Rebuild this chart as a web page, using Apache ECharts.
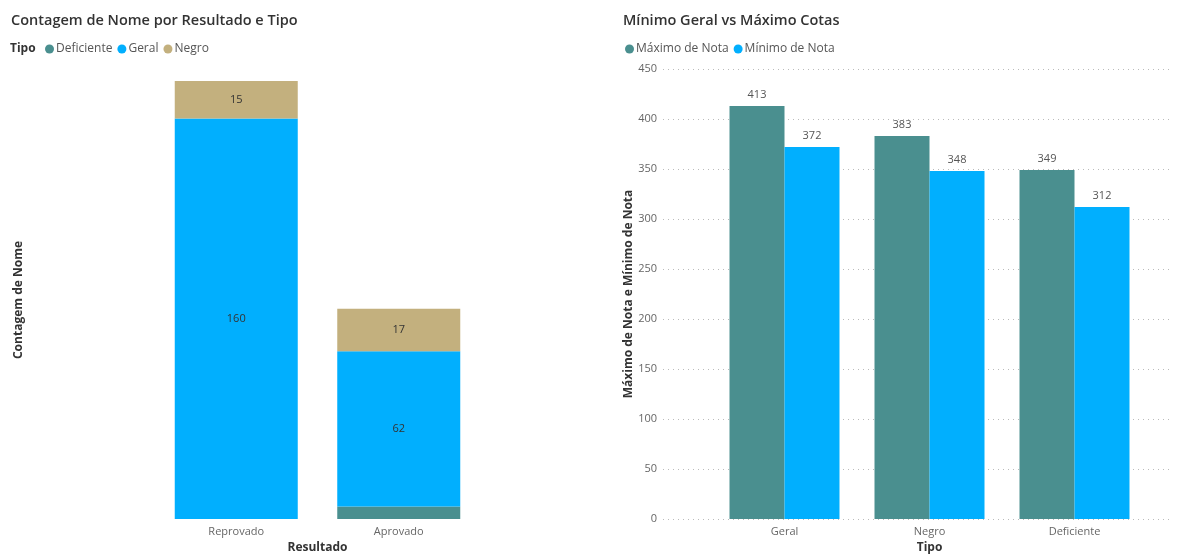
<!DOCTYPE html>
<html><head><meta charset="utf-8">
<script src="https://cdn.jsdelivr.net/npm/echarts@6/dist/echarts.min.js"></script>
<style>html,body{margin:0;padding:0;background:#fff}#c{width:1186px;height:554px}</style>
</head><body><div id="c"></div>
<script>
// Left chart data
const resultados = ['Reprovado', 'Aprovado'];
const deficiente = [0, 5];
const geral = [160, 62];
const negro = [15, 17];
// Right chart data
const tipos = ['Geral', 'Negro', 'Deficiente'];
const maximoNota = [413, 383, 349];
const minimoNota = [372, 348, 312];
const yTicks = [0, 50, 100, 150, 200, 250, 300, 350, 400, 450];

const TEAL = '#4A8F8F', BLUE = '#01AFFE', TAN = '#C3B07E';
const FONT = '"Open Sans", "DejaVu Sans", sans-serif';
const chart = echarts.init(document.getElementById('c'));
chart.setOption({
  animation: false,
  textStyle: { fontFamily: FONT },
  title: [
    { text: 'Contagem de Nome por Resultado e Tipo', left: 6, top: 8, textStyle: { fontSize: 14.5, fontWeight: 600, color: '#333', fontFamily: FONT } },
    { text: 'Mínimo Geral vs Máximo Cotas', left: 618, top: 8, textStyle: { fontSize: 14.5, fontWeight: 600, color: '#333', fontFamily: FONT } }
  ],
  graphic: [
    { type: 'text', left: 10, top: 43, style: { text: 'Tipo', font: 'bold 12px ' + FONT, fill: '#333' } }
  ],
  legend: [
    { data: ['Deficiente', 'Geral', 'Negro'], left: 40, top: 38, icon: 'circle', itemWidth: 9, itemHeight: 9, itemGap: 5,
      textStyle: { fontSize: 12, color: '#555', padding: [0, 0, 0, -3] } },
    { data: ['Máximo de Nota', 'Mínimo de Nota'], left: 620, top: 38, icon: 'circle', itemWidth: 9, itemHeight: 9, itemGap: 5,
      textStyle: { fontSize: 12, color: '#555', padding: [0, 0, 0, -3] } }
  ],
  grid: [
    { left: 155, right: 706, top: 81, bottom: 35, outerBoundsMode: 'none', containLabel: false },
    { left: 663, right: 16, top: 69, bottom: 35, outerBoundsMode: 'none', containLabel: false },
    { left: 712, right: 39, top: 69, bottom: 35, outerBoundsMode: 'none', containLabel: false }
  ],
  xAxis: [
    { type: 'category', gridIndex: 0, data: resultados, name: 'Resultado', nameLocation: 'middle', nameGap: 23,
      nameTextStyle: { fontSize: 12, fontWeight: 'bold', color: '#333' },
      axisLine: { show: false }, axisTick: { show: false },
      axisLabel: { fontSize: 11, color: '#666', margin: 7 } },
    { type: 'category', gridIndex: 1, data: ['a'], show: false },
    { type: 'category', gridIndex: 2, data: tipos, name: 'Tipo', nameLocation: 'middle', nameGap: 23,
      nameTextStyle: { fontSize: 12, fontWeight: 'bold', color: '#333' },
      axisLine: { show: false }, axisTick: { show: false },
      axisLabel: { fontSize: 11, color: '#666', margin: 7 } }
  ],
  yAxis: [
    { type: 'value', gridIndex: 0, min: 0, max: 175, name: 'Contagem de Nome', nameLocation: 'middle', nameGap: 130,
      nameTextStyle: { fontSize: 12, fontWeight: 'bold', color: '#333' },
      axisLabel: { show: false }, splitLine: { show: false }, axisLine: { show: false }, axisTick: { show: false } },
    { type: 'value', gridIndex: 1, min: yTicks[0], max: yTicks[yTicks.length - 1], interval: 50,
      name: 'Máximo de Nota e Mínimo de Nota', nameLocation: 'middle', nameGap: 24,
      nameTextStyle: { fontSize: 12, fontWeight: 'bold', color: '#333' },
      axisLabel: { fontSize: 11, color: '#666', margin: 6 },
      axisLine: { show: false }, axisTick: { show: false },
      splitLine: { show: true, lineStyle: { type: [1, 4], color: '#bbb', width: 1 } } },
    { type: 'value', gridIndex: 2, min: 0, max: 450, interval: 50, show: false, splitLine: { show: false } }
  ],
  series: [
    { name: 'Deficiente', type: 'bar', stack: 'a', xAxisIndex: 0, yAxisIndex: 0, data: deficiente, barWidth: 123,
      itemStyle: { color: TEAL }, label: { show: false } },
    { name: 'Geral', type: 'bar', stack: 'a', xAxisIndex: 0, yAxisIndex: 0, data: geral, barWidth: 123,
      itemStyle: { color: BLUE }, label: { show: true, position: 'inside', fontSize: 11, color: '#333' } },
    { name: 'Negro', type: 'bar', stack: 'a', xAxisIndex: 0, yAxisIndex: 0, data: negro, barWidth: 123,
      itemStyle: { color: TAN }, label: { show: true, position: 'inside', fontSize: 11, color: '#333' } },
    { type: 'bar', xAxisIndex: 1, yAxisIndex: 1, data: [0], silent: true, itemStyle: { color: 'transparent' } },
    { name: 'Máximo de Nota', type: 'bar', xAxisIndex: 2, yAxisIndex: 2, data: maximoNota, barWidth: 55, barGap: '0%',
      itemStyle: { color: TEAL }, label: { show: true, position: 'top', distance: 6, fontSize: 11, color: '#555' } },
    { name: 'Mínimo de Nota', type: 'bar', xAxisIndex: 2, yAxisIndex: 2, data: minimoNota, barWidth: 55, barGap: '0%',
      itemStyle: { color: BLUE }, label: { show: true, position: 'top', distance: 6, fontSize: 11, color: '#555' } }
  ]
});
</script></body></html>
